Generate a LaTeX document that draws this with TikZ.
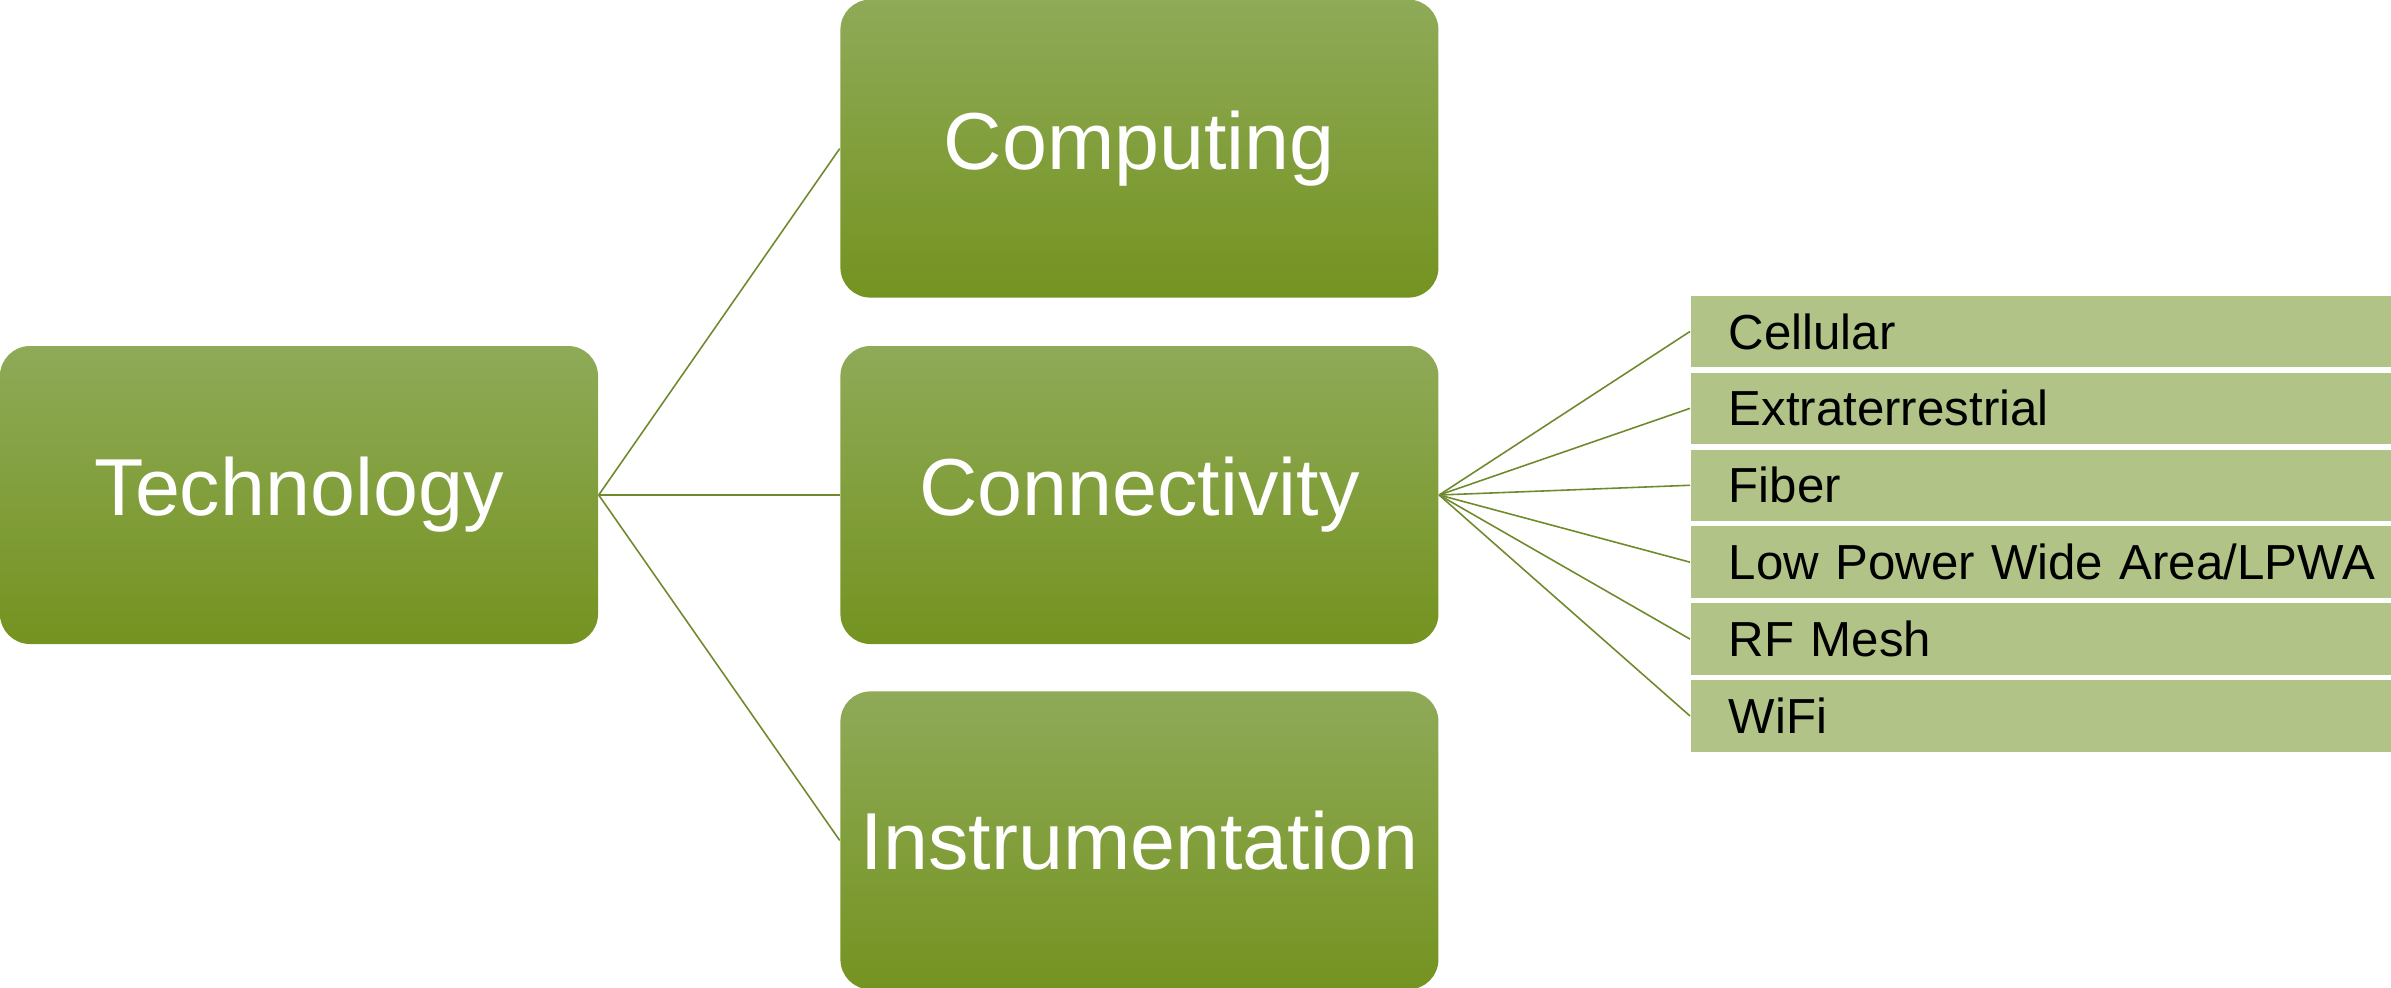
\documentclass[tikz,border=0pt]{standalone}
\usepackage{fontspec}
\setmainfont{Liberation Sans}
\usetikzlibrary{positioning}
\definecolor{topgreen}{RGB}{143,170,88}
\definecolor{midgreen}{RGB}{126,159,44}
\definecolor{botgreen}{RGB}{116,147,32}
\definecolor{leafgreen}{RGB}{177,195,134}
\definecolor{linkgreen}{RGB}{110,138,44}
\begin{document}
\begin{tikzpicture}[node distance=0.47cm,
	main/.style={shape=rectangle, rounded corners=0.3cm, minimum width=5.98cm, minimum height=2.98cm,
		top color=topgreen, middle color=midgreen, bottom color=botgreen, text=white,
		font=\fontsize{23}{28}\selectfont},
	leaf/.style={shape=rectangle, fill=leafgreen, minimum height=0.715cm,
		inner xsep=0.38cm, inner ysep=0pt, text width=6.6cm,
		align=left, font=\fontsize{14}{14}\selectfont},
	link/.style={draw=linkgreen, line width=0.45pt}]
	\useasboundingbox (0,0) rectangle (23.91,-9.87);
	\node[main] (tech) at (2.99,-4.95) {Technology};
	\node[main] (conn) [right=2.41cm of tech] {Connectivity};
	\node[main] (comp) [above=of conn] {Computing};
	\node[main] (inst) [below=0.46cm of conn] {Instrumentation};
	
	\node[leaf, anchor=north west] (cell) at (16.90,-2.95) {Cellular};
	\node[leaf] (extra) [below=0.04cm of cell] {Extraterrestrial};
	\node[leaf] (fiber) [below=0.04cm of extra] {Fiber};
	\node[leaf] (lpwa) [below=0.04cm of fiber] {Low Power Wide Area/LPWA};
	\node[leaf] (mesh) [below=0.04cm of lpwa] {RF Mesh};
	\node[leaf] (wifi) [below=0.04cm of mesh] {WiFi};
	
	\path[link]
	(tech.east) edge (comp.west)
	(tech.east) edge (conn.west)
	(tech.east) edge (inst.west)
	(conn.east) edge (cell.west)
	(conn.east) edge (extra.west)
	(conn.east) edge (fiber.west)
	(conn.east) edge (lpwa.west)
	(conn.east) edge (mesh.west)
	(conn.east) edge (wifi.west);
\end{tikzpicture}
\end{document}
